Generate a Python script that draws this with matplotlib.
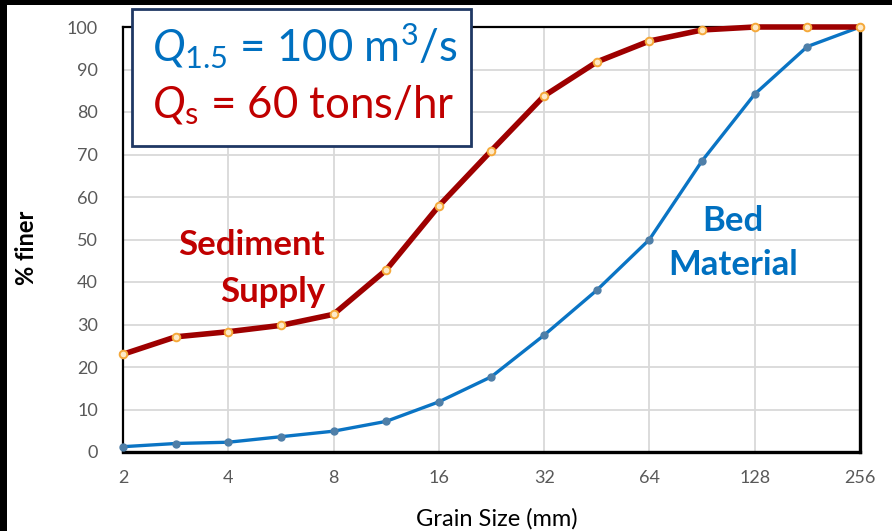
import matplotlib
matplotlib.use("Agg")
import matplotlib.pyplot as plt
from matplotlib.patches import Rectangle

plt.rcParams['font.family'] = ['Lato', 'DejaVu Sans']
plt.rcParams['mathtext.fontset'] = 'custom'
plt.rcParams['mathtext.rm'] = 'Lato'
plt.rcParams['mathtext.it'] = 'Lato:italic'
plt.rcParams['mathtext.bf'] = 'Lato:bold'

# grain sizes (mm), half-phi steps from 2 to 256
grain_mm = [2, 2.83, 4, 5.66, 8, 11.3, 16, 22.6, 32, 45.3, 64, 90.5, 128, 181, 256]
supply_pct = [23.0, 27.1, 28.3, 29.8, 32.4, 42.8, 57.9, 70.9, 83.8, 91.8, 96.7, 99.3, 100, 100, 100]
bed_pct = [1.25, 2.0, 2.3, 3.6, 4.9, 7.2, 11.8, 17.7, 27.5, 38.1, 50.0, 68.5, 84.2, 95.4, 100]
x_ticks = [2, 4, 8, 16, 32, 64, 128, 256]
y_ticks = list(range(0, 101, 10))

RED = '#9e0000'
BLUE = '#0a74c4'
TXT_RED = '#c00000'
TXT_BLUE = '#0070c0'
GREY = '#595959'

fig = plt.figure(figsize=(8.92, 5.31), dpi=100)
fig.patch.set_facecolor('black')
fig.add_artist(Rectangle((7 / 892, 0), 1, 1 - 5 / 531, transform=fig.transFigure,
                         facecolor='white', edgecolor='none', zorder=-10))

ax = fig.add_axes([123 / 892, 1 - 452 / 531, 737 / 892, 425 / 531])
ax.set_xscale('log', base=2)
ax.set_xlim(2, 256)
ax.set_ylim(0, 100)
ax.set_xticks(x_ticks)
ax.set_xticklabels([str(t) for t in x_ticks])
ax.set_yticks(y_ticks)
ax.minorticks_off()
ax.tick_params(length=0, labelsize=13, labelcolor=GREY)
ax.tick_params(axis='x', pad=13)
ax.tick_params(axis='y', pad=18)
ax.grid(True, color='#d9d9d9', linewidth=1.3)
ax.set_axisbelow(True)
for side in ['left', 'bottom', 'top', 'right']:
    ax.spines[side].set_color('black')
    ax.spines[side].set_linewidth(1.6)
ax.spines['right'].set_linewidth(2.4)
ax.spines['bottom'].set_linewidth(2.4)

ax.plot(grain_mm, bed_pct, color=BLUE, linewidth=2.4, marker='o', markersize=5,
        markerfacecolor='#4f7fa8', markeredgecolor='#4f7fa8', clip_on=False, zorder=3)
ax.plot(grain_mm, supply_pct, color=RED, linewidth=4, marker='o', markersize=5.5,
        markerfacecolor='#fde9c8', markeredgecolor='#f5a93a', markeredgewidth=1.4,
        clip_on=False, zorder=4)

fig.text(497 / 892, 1 - 519 / 531, 'Grain Size (mm)', fontsize=17, color='black',
         ha='center', va='center')
fig.text(26 / 892, 1 - 248 / 531, '% finer', fontsize=17, color='black',
         fontweight='bold', rotation=90, ha='center', va='center')

fig.text(325 / 892, 1 - 245 / 531, 'Sediment', color=TXT_RED, fontsize=25,
         fontweight='bold', ha='right', va='center')
fig.text(325 / 892, 1 - 292 / 531, 'Supply', color=TXT_RED, fontsize=25,
         fontweight='bold', ha='right', va='center')
fig.text(733 / 892, 1 - 221 / 531, 'Bed', color=TXT_BLUE, fontsize=25,
         fontweight='bold', ha='center', va='center')
fig.text(733 / 892, 1 - 265 / 531, 'Material', color=TXT_BLUE, fontsize=25,
         fontweight='bold', ha='center', va='center')

# discharge / sediment load box
fig.add_artist(Rectangle((132 / 892, 1 - 146 / 531), 339 / 892, 137 / 531,
                         transform=fig.transFigure, facecolor='white',
                         edgecolor='#1f3864', linewidth=2, zorder=5))
fig.text(152 / 892, 1 - 62 / 531, r'$Q_{1.5}$ = 100 m$^3$/s', color=TXT_BLUE,
         fontsize=31.5, ha='left', va='baseline', zorder=6)
fig.text(152 / 892, 1 - 118 / 531, r'$Q_\mathrm{s}$ = 60 tons/hr', color=TXT_RED,
         fontsize=31.5, ha='left', va='baseline', zorder=6)

fig.savefig('out.png', dpi=100, facecolor=fig.get_facecolor())
